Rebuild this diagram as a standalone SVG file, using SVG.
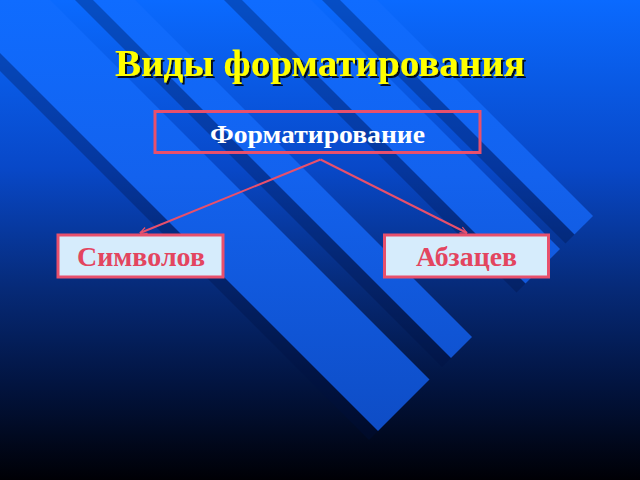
<svg xmlns="http://www.w3.org/2000/svg" width="640" height="480" viewBox="0 0 640 480">
  <defs>
    <linearGradient id="bg" x1="0" y1="0" x2="0" y2="480" gradientUnits="userSpaceOnUse">
      <stop offset="0" stop-color="#0a6aff"/>
      <stop offset="0.35" stop-color="#0848c8"/>
      <stop offset="0.6" stop-color="#062a78"/>
      <stop offset="0.8" stop-color="#021440"/>
      <stop offset="1" stop-color="#000005"/>
    </linearGradient>
    <linearGradient id="stripe" x1="0" y1="0" x2="0" y2="440" gradientUnits="userSpaceOnUse">
      <stop offset="0" stop-color="#0f6cff"/>
      <stop offset="0.4" stop-color="#1362ee"/>
      <stop offset="1" stop-color="#0e4cc4"/>
    </linearGradient>
    <filter id="tshadow" x="-10%" y="-30%" width="120%" height="160%">
      <feDropShadow dx="2" dy="2" stdDeviation="0.3" flood-color="#000000" flood-opacity="0.85"/>
    </filter>
    <marker id="arrow" viewBox="0 0 10 10" refX="9.5" refY="5" markerWidth="8" markerHeight="8" markerUnits="userSpaceOnUse" orient="auto">
      <path d="M1,1 L9.5,5 L1,9" fill="none" stroke="#e8506c" stroke-width="1.5"/>
    </marker>
    <g id="stripes">
      <polygon points="-125,-175 429.5,379.5 378,431 -176.5,-123.5"/>
      <polygon points="-82.5,-217.5 472,337 451,358 -103.5,-196.5"/>
      <polygon points="5.5,-305.5 560,249 525.5,283.5 -29,-271"/>
      <polygon points="38.5,-338.5 593,216 574.5,234.5 20,-320"/>
    </g>
  </defs>
  <style>
    .box { stroke: #e8506c; stroke-width: 3; }
    .conn { stroke: #e8506c; stroke-width: 2; fill: none; marker-end: url(#arrow); }
    .serif { font-family: "Liberation Serif", "Times New Roman", serif; font-weight: bold; text-anchor: middle; }
    .leaf { fill: #e3455f; font-size: 27px; }
  </style>

  <rect x="0" y="0" width="640" height="480" fill="url(#bg)"/>
  <use href="#stripes" transform="translate(-9,9)" fill="#001040" opacity="0.3"/>
  <use href="#stripes" fill="url(#stripe)"/>

  <g id="title">
    <text class="serif" x="320" y="76" font-size="38" fill="#ffff00" filter="url(#tshadow)" textLength="410" lengthAdjust="spacingAndGlyphs">Виды форматирования</text>
  </g>

  <g id="connectors">
    <line class="conn" x1="320.5" y1="159.5" x2="140" y2="233"/>
    <line class="conn" x1="320.5" y1="159.5" x2="467" y2="233"/>
  </g>

  <g id="node-formatting">
    <rect class="box" x="155" y="111.5" width="325" height="41" fill="none"/>
    <text class="serif" x="317.5" y="143" font-size="25" fill="#ffffff" textLength="215" lengthAdjust="spacingAndGlyphs">Форматирование</text>
  </g>

  <g id="node-symbols">
    <rect class="box" x="58" y="235" width="165" height="42" fill="#d6ecfc"/>
    <text class="serif leaf" x="141" y="266" textLength="128" lengthAdjust="spacingAndGlyphs">Символов</text>
  </g>

  <g id="node-paragraphs">
    <rect class="box" x="384.5" y="235" width="164" height="42" fill="#d6ecfc"/>
    <text class="serif leaf" x="466.5" y="266" textLength="101" lengthAdjust="spacingAndGlyphs">Абзацев</text>
  </g>
</svg>
